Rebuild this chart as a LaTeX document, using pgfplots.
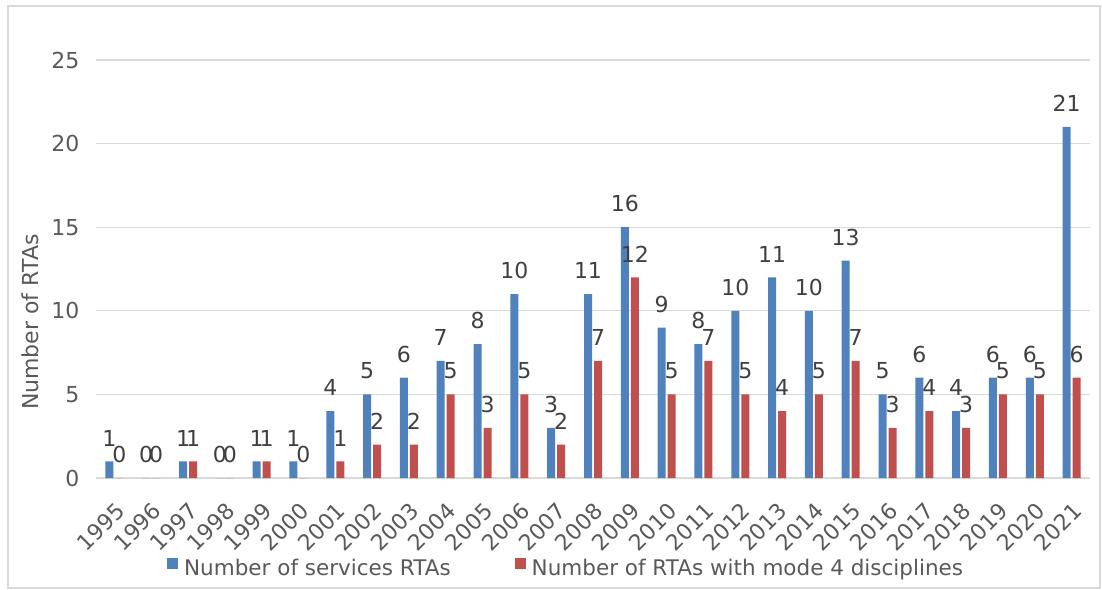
\documentclass[border=0pt]{standalone}
\usepackage{pgfplots}
\pgfplotsset{compat=1.18}
\usepackage{fontspec}
\setmainfont{DejaVu Sans}
\definecolor{barblue}{HTML}{4F81BD}
\definecolor{barred}{HTML}{C0504D}
\definecolor{gridgrey}{HTML}{D9D9D9}
\definecolor{ticktext}{HTML}{595959}
\definecolor{labeltext}{HTML}{404040}
\begin{document}
\begin{tikzpicture}
\begin{axis}[
  at={(0,0)}, anchor=south west,
  scale only axis, width=994bp, height=418bp,
  xmin=-0.5, xmax=26.5, ymin=0, ymax=25,
  clip=false,
  ybar=2bp, bar width=8bp,
  axis line style={draw=none},
  ymajorgrids, major grid style={draw=gridgrey, line width=1.3bp},
  major tick length=0pt,
  ytick={0,5,10,15,20,25},
  xtick={0,...,26},
  xticklabels={1995,1996,1997,1998,1999,2000,2001,2002,2003,2004,2005,2006,2007,2008,2009,2010,2011,2012,2013,2014,2015,2016,2017,2018,2019,2020,2021},
  /pgf/number format/assume math mode=true,
  tick label style={font=\fontsize{22bp}{25bp}\selectfont, text=ticktext},
  yticklabel style={anchor=east, xshift=-13bp},
  xticklabel style={rotate=45, anchor=north east, inner sep=0pt, xshift=0bp, font=\fontsize{22bp}{25bp}\selectfont},
  xticklabel shift=23bp,
  ylabel={Number of RTAs},
  every axis y label/.style={at={(axis description cs:-0.0664,0.373)}, rotate=90, anchor=center,
    font=\fontsize{22bp}{25bp}\selectfont, text=ticktext},
  point meta=explicit symbolic,
  nodes near coords,
  nodes near coords style={anchor=south, inner sep=0pt, yshift=15bp, font=\fontsize{22bp}{25bp}\selectfont, text=labeltext},
  legend columns=2,
  legend style={draw=none, fill=none, at={(axis description cs:0.0714,-0.215)}, anchor=west, inner sep=0pt,
    nodes={inner sep=0pt, font=\fontsize{21.5bp}{24bp}\selectfont, text=ticktext},
    /tikz/every odd column/.append style={column sep=6bp},
    /tikz/every even column/.append style={column sep=64bp}},
  legend image code/.code={\fill[#1,draw=none] (0bp,-1bp) rectangle (11bp,10bp);},
]
\addplot[fill=barblue, draw=none] coordinates {
 (0,1) [1] (1,0) [0] (2,1) [1] (3,0) [0] (4,1) [1] (5,1) [1] (6,4) [4]
 (7,5) [5] (8,6) [6] (9,7) [7] (10,8) [8] (11,11) [10] (12,3) [3] (13,11) [11]
 (14,15) [16] (15,9) [9] (16,8) [8] (17,10) [10] (18,12) [11] (19,10) [10]
 (20,13) [13] (21,5) [5] (22,6) [6] (23,4) [4] (24,6) [6] (25,6) [6] (26,21) [21]
};
\addlegendentry{Number of services RTAs}
\addplot[fill=barred, draw=none] coordinates {
 (0,0) [0] (1,0) [0] (2,1) [1] (3,0) [0] (4,1) [1] (5,0) [0] (6,1) [1]
 (7,2) [2] (8,2) [2] (9,5) [5] (10,3) [3] (11,5) [5] (12,2) [2] (13,7) [7]
 (14,12) [12] (15,5) [5] (16,7) [7] (17,5) [5] (18,4) [4] (19,5) [5]
 (20,7) [7] (21,3) [3] (22,4) [4] (23,3) [3] (24,5) [5] (25,5) [5] (26,6) [6]
};
\addlegendentry{Number of RTAs with mode 4 disciplines}
\end{axis}
\pgfresetboundingbox
\path[use as bounding box] (-96bp,-112bp) rectangle (1006bp,478bp);
\draw[gridgrey, line width=1.3bp] (-88bp,-110bp) rectangle (1004bp,472bp);
\end{tikzpicture}
\end{document}
